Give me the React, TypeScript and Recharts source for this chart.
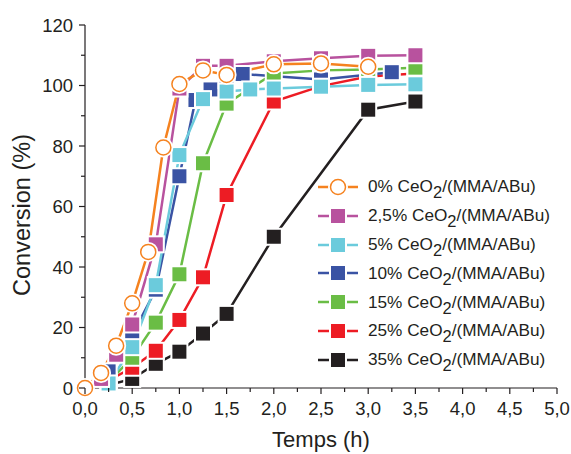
import React from "react"
import { LineChart, Line, XAxis, YAxis } from "recharts"

// time axis ticks (h) and conversion ticks (%)
const xTicks = [0, 0.25, 0.5, 0.75, 1, 1.25, 1.5, 1.75, 2, 2.25, 2.5, 2.75, 3, 3.25, 3.5, 3.75, 4, 4.25, 4.5, 4.75, 5]
const yTicks = [0, 10, 20, 30, 40, 50, 60, 70, 80, 90, 100, 110, 120]

const labels = ["0%", "2,5%", "5%", "10%", "15%", "25%", "35%"]
const colors = ["#f5821f", "#b8529e", "#6bcbdc", "#3a53a4", "#6abd45", "#ed1c24", "#231f20"]

const time0 = [0, 0.17, 0.33, 0.5, 0.67, 0.83, 1.0, 1.25, 1.5, 2.0, 2.5, 3.0]
const conv0 = [0, 5, 14, 28, 45, 79.5, 100.5, 105, 103.5, 107, 107.3, 106.2]

const time2 = [0.17, 0.33, 0.5, 0.75, 1.0, 1.25, 1.5, 2.0, 2.5, 3.0, 3.5]
const conv2 = [3, 11, 21, 47.5, 99, 106.5, 106.5, 108, 109, 109.8, 110]

const time5 = [0.25, 0.5, 0.75, 1.0, 1.25, 1.5, 1.75, 2.0, 2.5, 3.0, 3.5]
const conv5 = [1.5, 13.5, 34, 77, 95.5, 98, 98.7, 99, 99.6, 100.2, 100.4]

const time10 = [0.25, 0.5, 0.75, 1.0, 1.17, 1.33, 1.5, 1.67, 2.5, 3.25]
const conv10 = [5.5, 17.5, 32.5, 70, 95.2, 98.7, 101.8, 103.8, 102, 104.4]

const time15 = [0.25, 0.5, 0.75, 1.0, 1.25, 1.5, 2.0, 2.5, 3.0, 3.5]
const conv15 = [2, 10, 21.6, 37.6, 74.3, 94, 104, 105, 105.3, 105.9]

const time25 = [0.25, 0.5, 0.75, 1.0, 1.25, 1.5, 2.0, 2.5, 3.0, 3.5]
const conv25 = [2.5, 6.7, 12.3, 22.5, 36.6, 63.8, 94.7, 99.8, 103, 104]

const time35 = [0.25, 0.5, 0.75, 1.0, 1.25, 1.5, 2.0, 3.0, 3.5]
const conv35 = [1, 3, 8, 12, 18, 24.5, 50, 92, 94.7]

const times = [time0, time2, time5, time10, time15, time25, time35]
const convs = [conv0, conv2, conv5, conv10, conv15, conv25, conv35]

const series = labels.map((label, i) => ({
  label,
  color: colors[i],
  circle: i === 0,
  data: times[i].map((t, j) => ({ t, v: convs[i][j] })),
}))

const INK = "#231f20"
const FONT = "'Liberation Sans', Arial, sans-serif"

function Marker({ cx, cy, color, circle }: any) {
  if (circle) {
    return (
      <g>
        <circle cx={cx} cy={cy} r={10} fill="#fff" />
        <circle cx={cx} cy={cy} r={7.5} fill="#fff" stroke={color} strokeWidth={1.5} />
      </g>
    )
  }
  return (
    <g>
      <rect x={cx - 9} y={cy - 9} width={18} height={18} fill="#fff" />
      <rect x={cx - 7} y={cy - 7} width={14} height={14} fill={color} />
    </g>
  )
}

const makeDot = (color: string, circle: boolean) => (p: any) => {
  if (p.cx == null || p.cy == null) return <g key={p.index} />
  return <Marker key={p.index} cx={p.cx} cy={p.cy} color={color} circle={circle} />
}

const XTick = (p: any) => {
  const v = p.payload.value
  const major = Math.abs(v * 2 - Math.round(v * 2)) < 1e-6
  return (
    <g>
      <line x1={p.x} x2={p.x} y1={p.y} y2={p.y + (major ? 6 : 4)} stroke={INK} strokeWidth={1.2} />
      {major && (
        <text x={p.x} y={p.y + 27} textAnchor="middle" fontSize={18.5} fontFamily={FONT} fill={INK}>
          {v.toFixed(1).replace(".", ",")}
        </text>
      )}
    </g>
  )
}

const YTick = (p: any) => {
  const v = p.payload.value
  const major = v % 20 === 0
  return (
    <g>
      <line x1={p.x} x2={p.x - (major ? 6 : 4)} y1={p.y} y2={p.y} stroke={INK} strokeWidth={1.2} />
      {major && (
        <text x={p.x - 12} y={p.y + 6.5} textAnchor="end" fontSize={18.5} fontFamily={FONT} fill={INK}>
          {v}
        </text>
      )}
    </g>
  )
}

const XTitle = () => (
  <text x={321} y={447} textAnchor="middle" fontSize={22} fontFamily={FONT} fill={INK}>
    Temps (h)
  </text>
)

const YTitle = () => (
  <text
    x={22}
    y={215}
    transform="rotate(-90, 22, 215)"
    textAnchor="middle"
    dominantBaseline="central"
    fontSize={23.5}
    fontFamily={FONT}
    fill={INK}
  >
    Conversion (%)
  </text>
)

const LegendBox = () => (
  <div style={{ position: "absolute", left: 318, top: 172.6, fontFamily: FONT, fontSize: 17.2, color: INK }}>
    {series.map((s) => (
      <div key={s.label} style={{ display: "flex", alignItems: "center", height: 28.8, whiteSpace: "nowrap" }}>
        <svg width={40} height={20} style={{ marginRight: 10 }}>
          <line x1={0} x2={40} y1={10} y2={10} stroke={s.color} strokeWidth={2.5} />
          <Marker cx={20} cy={10} color={s.color} circle={s.circle} />
        </svg>
        <span>
          {s.label} CeO
          <span style={{ position: "relative", top: 6, fontSize: 16.5 }}>2</span>
          /(MMA/ABu)
        </span>
      </div>
    ))}
  </div>
)

export default function App() {
  return (
    <div style={{ position: "absolute", left: 0, top: 0, width: 571, height: 454, background: "#fff" }}>
      <LineChart width={571} height={454} margin={{ top: 25, right: 14, left: 0, bottom: 0 }}>
        <XAxis
          dataKey="t"
          type="number"
          domain={[0, 5]}
          ticks={xTicks}
          interval={0}
          height={66}
          tickLine={false}
          tickSize={0}
          tickMargin={0}
          tick={XTick}
          stroke={INK}
          strokeWidth={1.2}
          allowDuplicatedCategory={false}
          label={{ content: XTitle }}
        />
        <XAxis
          xAxisId="top"
          orientation="top"
          type="number"
          domain={[0, 5]}
          ticks={xTicks}
          interval={0}
          height={0}
          mirror
          tickSize={4}
          tickFormatter={() => ""}
          stroke={INK}
          strokeWidth={1.2}
        />
        <YAxis
          type="number"
          domain={[0, 120]}
          ticks={yTicks}
          interval={0}
          width={85}
          tickLine={false}
          tickSize={0}
          tickMargin={0}
          tick={YTick}
          stroke={INK}
          strokeWidth={1.2}
          label={{ content: YTitle }}
        />
        <YAxis
          yAxisId="right"
          orientation="right"
          type="number"
          domain={[0, 120]}
          ticks={yTicks}
          interval={0}
          width={0}
          mirror
          tickSize={4}
          tickFormatter={() => ""}
          stroke={INK}
          strokeWidth={1.2}
        />
        {series
          .slice()
          .reverse()
          .map((s) => (
            <Line
              key={s.label}
              data={s.data}
              dataKey="v"
              type="linear"
              stroke={s.color}
              strokeWidth={2.5}
              dot={makeDot(s.color, s.circle)}
              activeDot={false}
              isAnimationActive={false}
            />
          ))}
      </LineChart>
      <LegendBox />
    </div>
  )
}
